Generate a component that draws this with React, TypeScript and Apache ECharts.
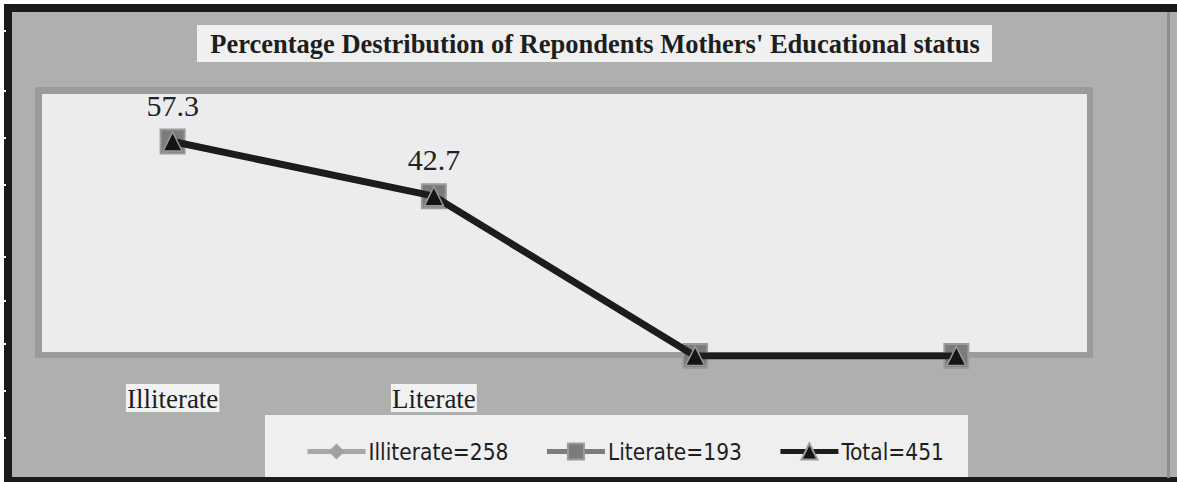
import React, { useEffect, useRef } from "react";
import * as echarts from "echarts";

const categories = ["Illiterate", "Literate", "", ""];
const illiterateValues = [57.3, 42.7, 0, 0];
const literateValues = [57.3, 42.7, 0, 0];
const totalValues = [57.3, 42.7, 0, 0];
const seriesNames = ["Illiterate=258", "Literate=193", "Total=451"];
const titleText = "Percentage Destribution of Repondents Mothers' Educational status";

export default function App() {
  const ref = useRef<HTMLDivElement>(null);
  useEffect(() => {
    if (!ref.current) return;
    const chart = echarts.init(ref.current, null, { renderer: "svg" });
    const notchYs = [30, 90, 137, 184, 256, 300, 343, 390, 437];
    chart.setOption({
      animation: false,
      backgroundColor: "#ffffff",
      graphic: [
        { type: "rect", z: -10, shape: { x: 4, y: 4, width: 1173, height: 478 }, style: { fill: "#aeb0ae" } },
        { type: "rect", z: -9, shape: { x: 4, y: 4, width: 1173, height: 8 }, style: { fill: "#1a1a1a" } },
        { type: "rect", z: -9, shape: { x: 4, y: 4, width: 8, height: 478 }, style: { fill: "#1a1a1a" } },
        { type: "rect", z: -9, shape: { x: 4, y: 477, width: 1173, height: 5 }, style: { fill: "#1a1a1a" } },
        { type: "rect", z: -9, shape: { x: 1167, y: 12, width: 3, height: 466 }, style: { fill: "#8c8e8c" } },
        ...notchYs.map((y) => ({ type: "rect", z: -8, shape: { x: 0, y, width: 6, height: 2 }, style: { fill: "#ffffff" } })),
        { type: "rect", z: -9, shape: { x: 35, y: 87, width: 1058, height: 271 }, style: { fill: "#9a9b9a" } },
        { type: "rect", z: -8, shape: { x: 42, y: 94, width: 1045, height: 258 }, style: { fill: "#ececee" } },
        { type: "rect", z: -8, shape: { x: 197, y: 25, width: 795, height: 37 }, style: { fill: "#f0f0f0" } },
        { type: "rect", z: -8, shape: { x: 265, y: 415, width: 703, height: 62 }, style: { fill: "#efeff0" } },
        {
          type: "text", z: 5, x: 595, y: 44,
          style: { text: titleText, fill: "#1e1e1e", font: "bold 26.5px 'Liberation Serif', serif", align: "center", verticalAlign: "middle" },
        },
      ],
      grid: { left: 42, right: 90, top: 94, bottom: 126 },
      xAxis: {
        type: "category",
        data: categories,
        boundaryGap: true,
        axisLine: { show: false },
        axisTick: { show: false },
        splitLine: { show: false },
        axisLabel: {
          margin: 28,
          formatter: (v: string) => (v ? `{b|${v}}` : ""),
          rich: {
            b: {
              color: "#1e1e1e",
              fontFamily: "'Liberation Serif', serif",
              fontSize: 27,
              backgroundColor: "#f2f2f2",
              padding: [1, 1, 0, 1],
            },
          },
        },
      },
      yAxis: { type: "value", min: 0, max: 70, show: false, splitLine: { show: false } },
      legend: {
        left: 300,
        top: 435,
        itemWidth: 58,
        itemHeight: 20,
        itemGap: 36,
        textStyle: { fontFamily: "'Liberation Sans Narrow', 'DejaVu Sans Condensed', sans-serif", fontSize: 22.5, color: "#1e1e1e", padding: [0, 0, 0, -2] },
        data: [
          { name: seriesNames[0], lineStyle: { width: 5 } },
          { name: seriesNames[1], lineStyle: { width: 5 } },
          { name: seriesNames[2], lineStyle: { width: 5 } },
        ],
      },
      series: [
        {
          name: seriesNames[0], type: "line", data: illiterateValues, z: 2,
          symbol: "diamond", symbolSize: 18,
          lineStyle: { color: "#a8a8a8", width: 5 },
          itemStyle: { color: "#a0a0a0" },
        },
        {
          name: seriesNames[1], type: "line", data: literateValues, z: 3,
          symbol: "rect", symbolSize: 24,
          lineStyle: { color: "#7c7c7c", width: 5 },
          itemStyle: { color: "#7a7c7a", borderColor: "#9a9c9a", borderWidth: 2 },
        },
        {
          name: seriesNames[2], type: "line", data: totalValues, z: 4,
          symbol: "triangle", symbolSize: 19,
          lineStyle: { color: "#1c1c1c", width: 7 },
          itemStyle: { color: "#141414", borderColor: "#9a9a9a", borderWidth: 1.5 },
          label: {
            show: true, position: "top", distance: 11,
            fontFamily: "'Liberation Serif', serif", fontSize: 30, color: "#222",
            formatter: (p: any) => (p.value > 0 ? String(p.value) : ""),
          },
        },
      ],
    });
    return () => chart.dispose();
  }, []);
  return <div ref={ref} style={{ position: "fixed", left: 0, top: 0, width: 1177, height: 482 }} />;
}
